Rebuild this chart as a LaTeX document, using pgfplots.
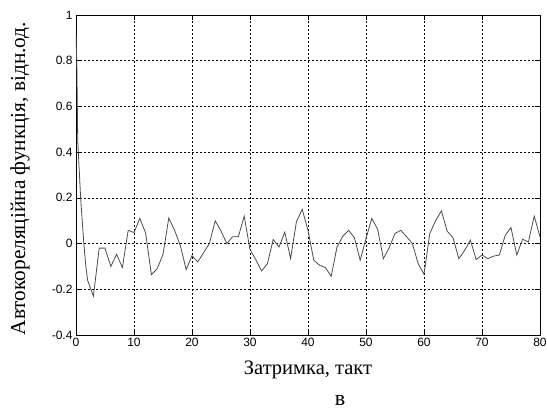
\documentclass[border=0pt]{standalone}
\usepackage{fontspec}
\setmainfont{Liberation Serif}
\newfontfamily\arial{Liberation Sans}
\usepackage{pgfplots}
\pgfplotsset{compat=1.18}
\begin{document}
\begin{tikzpicture}[x=1pt,y=1pt]
\path[use as bounding box] (-76,-80) rectangle (471,335);
\begin{axis}[at={(0,0)},anchor=south west, scale only axis,
  width=464pt, height=320pt,
  xmin=0,xmax=80,ymin=-0.4,ymax=1,
  xtick={0,10,...,80}, ytick={-0.4,-0.2,0,0.2,0.4,0.6,0.8,1},
  grid=major, grid style={black, line width=0.5pt, dash pattern=on 2pt off 2pt},
  tick align=inside, tick pos=both, major tick length=5pt,
  axis line style={black, line width=0.6pt}, tick style={black, line width=0.6pt},
  ticklabel style={font=\arial\fontsize{12}{12}\selectfont},
  /pgf/number format/assume math mode=true,
  yticklabel style={/pgf/number format/fixed, /pgf/number format/precision=1},
  xlabel={Затримка, такт},
  xlabel style={font=\fontsize{20.5}{20.5}\selectfont, at={(axis description cs:0.5,-0.1094)}, anchor=center},
  ylabel={Автокореляційна функція, відн.од.},
  ylabel style={font=\fontsize{21.3}{21.3}\selectfont, at={(axis description cs:-0.1207,0.489)}, anchor=center},
  clip mode=individual]
\addplot[black!70, line width=0.8pt] coordinates {
(0,0.92)(0.15,0.77)(0.3,0.45)(0.8,0.2)(1.35,0.0)(1.7,-0.1)(2,-0.16)(3,-0.23)
(4,-0.02)(5,-0.02)(6,-0.10)(7,-0.047)(8,-0.105)(9,0.058)(10,0.048)
(11,0.11)(12,0.047)(13,-0.136)(14,-0.11)(15,-0.047)(16,0.112)(17,0.058)(18,-0.01)(19,-0.114)(20,-0.053)
(21,-0.08)(22,-0.04)(23,0.0)(24,0.1)(25,0.055)(26,0.0)(27,0.03)(28,0.03)(29,0.12)(30,-0.026)
(31,-0.07)(32,-0.12)(33,-0.088)(34,0.018)(35,-0.015)(36,0.05)(37,-0.066)(38,0.095)(39,0.15)(40,0.058)
(41,-0.073)(42,-0.095)(43,-0.105)(44,-0.143)(45,-0.015)(46,0.032)(47,0.058)(48,0.026)(49,-0.073)(50,0.022)
(51,0.11)(52,0.063)(53,-0.066)(54,-0.018)(55,0.044)(56,0.058)(57,0.03)(58,0.0)(59,-0.088)(60,-0.134)
(61,0.044)(62,0.1)(63,0.143)(64,0.054)(65,0.026)(66,-0.066)(67,-0.03)(68,0.015)(69,-0.07)(70,-0.05)
(71,-0.066)(72,-0.055)(73,-0.05)(74,0.036)(75,0.07)(76,-0.05)(77,0.019)(78,0.007)(79,0.12)(80,0.03)
};
\node[font=\fontsize{22}{22}\selectfont] at (rel axis cs:0.569,-0.206) {в};
\end{axis}
\end{tikzpicture}
\end{document}
